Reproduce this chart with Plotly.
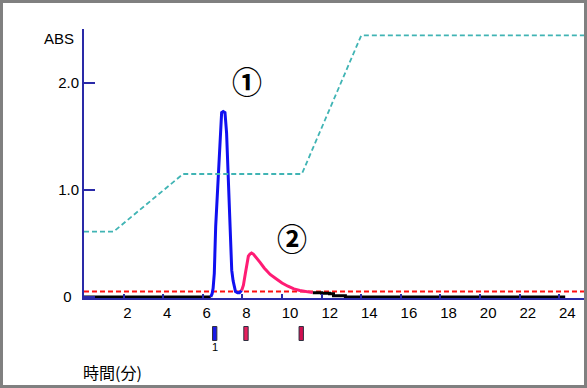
import plotly.graph_objects as go

# ---- data ----
peak1_t = [6.40, 6.47, 6.52, 6.58, 6.65, 6.75, 6.87, 6.95, 7.03, 7.12, 7.20, 7.29,
           7.37, 7.46, 7.53, 7.59, 7.65, 7.75, 7.85, 7.96]
peak1_abs = [0.0, 0.03, 0.08, 0.22, 0.66, 1.06, 1.53, 1.72, 1.73, 1.72, 1.53, 1.06,
             0.60, 0.25, 0.15, 0.10, 0.05, 0.04, 0.04, 0.06]

peak2_t = [7.96, 8.05, 8.15, 8.22, 8.30, 8.38, 8.46, 8.55, 8.70, 8.90, 9.10, 9.40,
           9.70, 10.0, 10.3, 10.6, 10.9, 11.2, 11.55]
peak2_abs = [0.06, 0.11, 0.22, 0.31, 0.38, 0.40, 0.41, 0.40, 0.37, 0.32, 0.27, 0.21,
             0.17, 0.13, 0.10, 0.075, 0.06, 0.05, 0.04]

base1_t = [0.0, 6.40]
base1_abs = [0.0, 0.0]
base2_t = [11.55, 12.0, 12.4, 12.6, 13.2, 24.3]
base2_abs = [0.04, 0.035, 0.03, 0.01, 0.0, 0.0]

grad_t = [0.0, 1.5, 5.0, 11.0, 14.0, 25.3]
grad_pct = [25, 25, 47, 47, 100, 100]

threshold_t = [0.0, 25.3]
threshold_abs = [0.05, 0.05]

fraction_t = [6.6, 8.18, 10.97]
fraction_colors = ["#1a1ae6", "#e8205e", "#d01050"]
fraction_labels = ["1", "", ""]

peak_labels = ["①", "②"]
peak_label_t = [8.22, 10.5]
peak_label_abs = [2.02, 0.56]

x_ticks = list(range(2, 25, 2))
y_ticks = [0, 1, 2]
y_ticktext = ["0\u2002", "1.0", "2.0"]

X_RANGE = [0, 25.3]
Y_RANGE = [-0.01, 2.5]
GRAD_FULL = 2.44  # ABS level of 100 %

# ---- figure ----
fig = go.Figure()

fig.add_trace(go.Scatter(x=threshold_t, y=threshold_abs, mode="lines",
                         line=dict(color="#ff1010", width=2, dash="5px,3px"),
                         hoverinfo="skip", showlegend=False))
fig.add_trace(go.Scatter(x=grad_t, y=grad_pct, mode="lines", yaxis="y2",
                         line=dict(color="#40b4b4", width=1.8, dash="5px,3px"),
                         showlegend=False))
fig.add_trace(go.Scatter(x=base1_t, y=base1_abs, mode="lines",
                         line=dict(color="black", width=3), showlegend=False))
fig.add_trace(go.Scatter(x=base2_t, y=base2_abs, mode="lines",
                         line=dict(color="black", width=3, shape="hv"), showlegend=False))
fig.add_trace(go.Scatter(x=peak1_t, y=peak1_abs, mode="lines",
                         line=dict(color="#1010f0", width=3), showlegend=False))
fig.add_trace(go.Scatter(x=peak2_t, y=peak2_abs, mode="lines",
                         line=dict(color="#ff1c74", width=3), showlegend=False))

PLOT_L, PLOT_R, PLOT_T, PLOT_B = 84, 2, 29, 90
W, H = 587, 388
pw = W - PLOT_L - PLOT_R
ph = H - PLOT_T - PLOT_B
bottom_px = H - PLOT_B


def py(p):
    return (bottom_px - p) / ph


def px(p):
    return (p - PLOT_L) / pw


shapes = []
for t, c in zip(fraction_t, fraction_colors):
    shapes.append(dict(type="rect", xref="x", yref="paper",
                       x0=t - 0.11, x1=t + 0.11, y0=py(340.5), y1=py(326.5),
                       fillcolor=c, line=dict(color="#303040", width=1)))
shapes.append(dict(type="rect", xref="paper", yref="paper",
                   x0=px(1.5), x1=px(585.5), y0=py(386.5), y1=py(1.5),
                   line=dict(color="#808080", width=3), fillcolor="rgba(0,0,0,0)"))

annotations = []
for t, lab in zip(fraction_t, fraction_labels):
    if lab:
        annotations.append(dict(x=t, y=py(347), xref="x", yref="paper", text=lab,
                                yanchor="middle", showarrow=False,
                                font=dict(size=11, color="black", family="Liberation Sans")))
for t, a, lab in zip(peak_label_t, peak_label_abs, peak_labels):
    annotations.append(dict(x=t, y=a, xref="x", yref="y", text="<b>" + lab + "</b>",
                            yanchor="middle", showarrow=False,
                            font=dict(size=30, color="black", family="Noto Sans CJK JP")))
annotations.append(dict(x=px(42), y=py(38), xref="paper", yref="paper", text="ABS",
                        yanchor="middle", showarrow=False,
                        font=dict(size=15, color="black", family="Liberation Sans")))
annotations.append(dict(x=px(81), y=py(372), xref="paper", yref="paper", text="時間(分)",
                        xanchor="left", yanchor="middle", showarrow=False,
                        font=dict(size=16, color="black", family="Noto Sans CJK JP")))

axis_col = "#2a2aa8"
fig.update_layout(
    width=W, height=H,
    margin=dict(l=PLOT_L, r=PLOT_R, t=PLOT_T, b=PLOT_B),
    paper_bgcolor="white", plot_bgcolor="white",
    showlegend=False,
    xaxis=dict(range=X_RANGE, tickvals=x_ticks, ticks="inside", ticklen=4,
               tickcolor=axis_col, tickwidth=1.5, showline=True, linecolor=axis_col,
               linewidth=2, showgrid=False, zeroline=False,
               ticklabelposition="outside right", ticklabelshift=-2,
               tickfont=dict(size=15, color="black", family="Liberation Sans")),
    yaxis=dict(range=Y_RANGE, tickvals=y_ticks, ticktext=y_ticktext, ticks="inside",
               ticklen=11, tickcolor=axis_col, tickwidth=1.5, showline=True,
               linecolor=axis_col, linewidth=2, showgrid=False, zeroline=False,
               tickfont=dict(size=15, color="black", family="Liberation Sans")),
    yaxis2=dict(range=[Y_RANGE[0] * 100 / GRAD_FULL, Y_RANGE[1] * 100 / GRAD_FULL],
                overlaying="y", visible=False),
    shapes=shapes, annotations=annotations,
)

fig.write_html("out.html", config={"displayModeBar": False},
               post_script="document.body.style.margin='0';")
